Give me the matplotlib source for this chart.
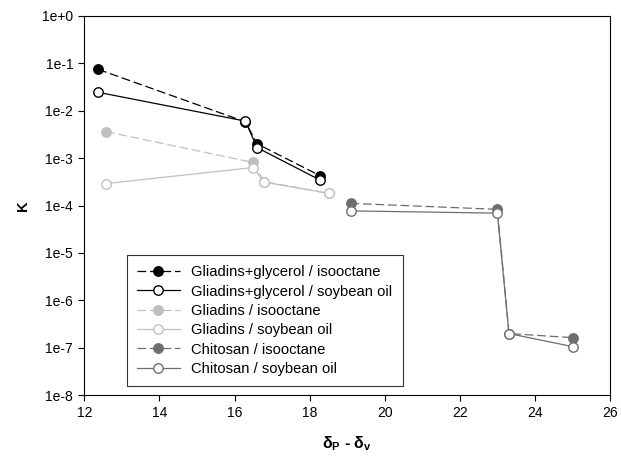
import matplotlib
matplotlib.use("Agg")
import matplotlib.pyplot as plt
from matplotlib.ticker import FixedLocator, NullLocator

plt.rcParams['font.family'] = ['Liberation Sans', 'DejaVu Sans']
plt.rcParams['mathtext.fontset'] = 'custom'
plt.rcParams['mathtext.rm'] = 'Liberation Sans'
plt.rcParams['mathtext.bf'] = 'Liberation Sans:bold'

# Data
gg_iso_x = [12.37, 16.29, 16.60, 18.29]
gg_iso_y = [7.4e-2, 5.8e-3, 2.0e-3, 4.2e-4]
gg_soy_x = [12.37, 16.29, 16.60, 18.29]
gg_soy_y = [2.43e-2, 6.0e-3, 1.66e-3, 3.4e-4]
gl_iso_x = [12.58, 16.49, 16.79, 18.51]
gl_iso_y = [3.6e-3, 8.1e-4, 3.2e-4, 1.8e-4]
gl_soy_x = [12.58, 16.49, 16.79, 18.51]
gl_soy_y = [2.9e-4, 6.3e-4, 3.1e-4, 1.8e-4]
ch_iso_x = [19.09, 23.0, 23.31, 25.01]
ch_iso_y = [1.11e-4, 8.3e-5, 2.0e-7, 1.64e-7]
ch_soy_x = [19.09, 23.0, 23.31, 25.01]
ch_soy_y = [7.7e-5, 6.9e-5, 2.0e-7, 1.06e-7]

labels = ["Gliadins+glycerol / isooctane", "Gliadins+glycerol / soybean oil",
          "Gliadins / isooctane", "Gliadins / soybean oil",
          "Chitosan / isooctane", "Chitosan / soybean oil"]
ytick_vals = [1e-8, 1e-7, 1e-6, 1e-5, 1e-4, 1e-3, 1e-2, 1e-1, 1e0]
ytick_labels = ["1e-8", "1e-7", "1e-6", "1e-5", "1e-4", "1e-3", "1e-2", "1e-1", "1e+0"]
xtick_vals = [12, 14, 16, 18, 20, 22, 24, 26]

BLACK = '#000000'
LIGHT = '#c0c0c0'
DARK = '#6e6e6e'

fig = plt.figure(figsize=(6.21, 4.74), dpi=100)
ax = fig.add_axes([84.3/621, 1 - 395.3/474, (610-84.3)/621, (395.3-15.7)/474])

ms = 6.8
lw = 0.9
dash = (0, (7, 3))
series = [
    (gg_iso_x, gg_iso_y, BLACK, BLACK, dash),
    (gg_soy_x, gg_soy_y, BLACK, 'white', '-'),
    (gl_iso_x, gl_iso_y, LIGHT, LIGHT, dash),
    (gl_soy_x, gl_soy_y, LIGHT, 'white', '-'),
    (ch_iso_x, ch_iso_y, DARK, DARK, dash),
    (ch_soy_x, ch_soy_y, DARK, 'white', '-'),
]
for (xs, ys, c, fc, ls), lab in zip(series, labels):
    ax.plot(xs, ys, color=c, linestyle=ls, linewidth=lw, marker='o',
            markersize=ms, markerfacecolor=fc, markeredgecolor=c,
            markeredgewidth=1.0, label=lab)

ax.set_yscale('log')
ax.set_xlim(12, 26)
ax.set_ylim(1e-8, 1e0)
ax.yaxis.set_major_locator(FixedLocator(ytick_vals))
ax.yaxis.set_minor_locator(NullLocator())
ax.set_yticklabels(ytick_labels)
ax.set_xticks(xtick_vals)
ax.tick_params(axis='both', direction='out', length=4, width=0.8,
               labelsize=10, top=False, right=False, pad=4)
for s in ax.spines.values():
    s.set_linewidth(0.8)

ax.set_ylabel('K', fontsize=10.5, fontweight='bold', labelpad=9)
ax.set_xlabel('δ$_\\mathbf{P}$ - δ$_\\mathbf{v}$', fontsize=11.5, fontweight='bold', labelpad=10)

leg = ax.legend(loc='upper left', bbox_to_anchor=((126.6-84.3)/525.7, (395.3-255)/379.6),
                frameon=True, fancybox=False, edgecolor='black', fontsize=10.6,
                handlelength=2.9, handletextpad=0.8, borderpad=0.7,
                labelspacing=0.36, borderaxespad=0)
leg.get_frame().set_linewidth(0.8)

fig.savefig('out.png', dpi=100)
